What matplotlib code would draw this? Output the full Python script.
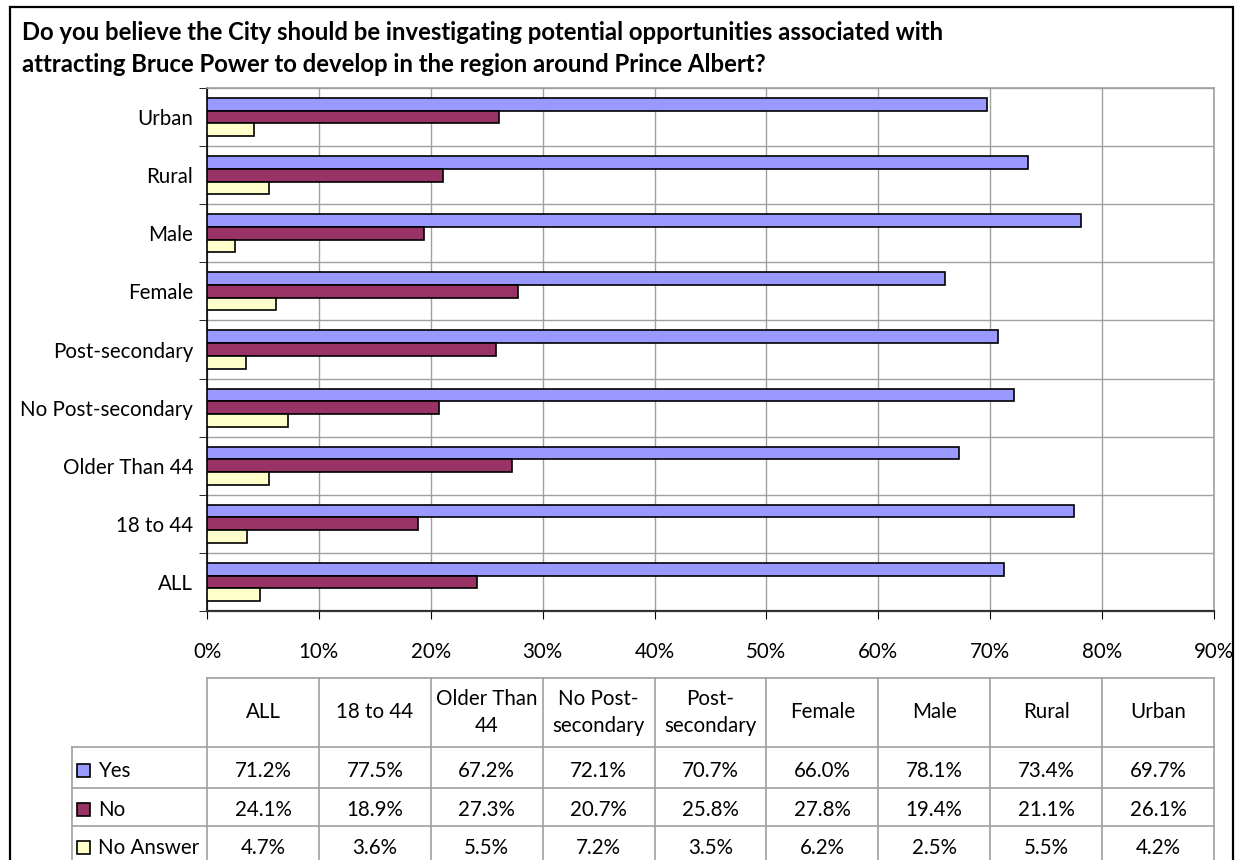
import matplotlib
matplotlib.use("Agg")
import matplotlib.pyplot as plt
import numpy as np
from matplotlib.patches import Rectangle
from matplotlib.lines import Line2D

plt.rcParams['font.family'] = ['Lato', 'DejaVu Sans']

categories = ["ALL", "18 to 44", "Older Than 44", "No Post-secondary", "Post-secondary",
              "Female", "Male", "Rural", "Urban"]
header_labels = ["ALL", "18 to 44", "Older Than\n44", "No Post-\nsecondary", "Post-\nsecondary",
                 "Female", "Male", "Rural", "Urban"]
series_names = ["Yes", "No", "No Answer"]
yes = [71.2, 77.5, 67.2, 72.1, 70.7, 66.0, 78.1, 73.4, 69.7]
no = [24.1, 18.9, 27.3, 20.7, 25.8, 27.8, 19.4, 21.1, 26.1]
no_answer = [4.7, 3.6, 5.5, 7.2, 3.5, 6.2, 2.5, 5.5, 4.2]
colors = ["#9999FF", "#993366", "#FFFFCC"]
title = ("Do you believe the City should be investigating potential opportunities associated with\n"
         "attracting Bruce Power to develop in the region around Prince Albert?")

W, H = 1238, 860
FS = 14.8
fig = plt.figure(figsize=(W / 100, H / 100), dpi=100)

def fx(px):
    return px / W

def fy(py):
    return 1 - py / H

# outer frame
fig.patches.append(Rectangle((fx(10), fy(870)), fx(1233) - fx(10), fy(7) - fy(870),
                             transform=fig.transFigure, fill=False, edgecolor="black",
                             linewidth=1.6, zorder=0))

fig.text(fx(22), fy(32), title.split("\n")[0], fontsize=17.2, fontweight="bold",
         va="center", ha="left")
fig.text(fx(22), fy(64), title.split("\n")[1], fontsize=17.2, fontweight="bold",
         va="center", ha="left")

# main plot
L, R, T, B = 207, 1214, 88, 611
ax = fig.add_axes([fx(L), fy(B), fx(R) - fx(L), fy(T) - fy(B)])
y = np.arange(len(categories))
h = 0.218
series = [yes, no, no_answer]
offsets = [h, 0, -h]
for vals, c, off in zip(series, colors, offsets):
    ax.barh(y + off, vals, height=h, color=c, edgecolor="black", linewidth=1.2, zorder=3)

ax.set_xlim(0, 90)
ax.set_ylim(-0.5, len(categories) - 0.5)
ax.set_xticks(np.arange(0, 91, 10))
ax.set_xticklabels([f"{v}%" for v in range(0, 91, 10)], fontsize=FS)
ax.set_yticks(y)
ax.set_yticklabels(categories, fontsize=FS)
ax.set_yticks(np.arange(-0.5, len(categories), 1), minor=True)
ax.tick_params(axis="y", which="major", length=0, pad=10)
ax.tick_params(axis="y", which="minor", length=6, direction="out", color="black")
ax.tick_params(axis="x", which="major", length=6, direction="out", pad=16, color="black")
ax.grid(axis="x", which="major", color="#A0A0A0", linewidth=1, zorder=0)
ax.grid(axis="y", which="minor", color="#A0A0A0", linewidth=1, zorder=0)
ax.set_axisbelow(True)
for s in ["top", "right"]:
    ax.spines[s].set_color("#A0A0A0")
    ax.spines[s].set_linewidth(1.2)
ax.spines["left"].set_color("black")
ax.spines["bottom"].set_color("#333333")
ax.spines["left"].set_linewidth(1.2)
ax.spines["bottom"].set_linewidth(1.6)

# data table
tax = fig.add_axes([fx(L), 0, fx(R) - fx(L), fy(678)])
tax.set_xlim(0, 9)
tax.set_ylim(H, 678)
tax.axis("off")
gc = "#A0A0A0"
lab_left = -(L - 72) / ((R - L) / 9)
hdr_top, hdr_bot = 678, 747
row_lines = [747, 788, 826, 866]
# header
tax.add_line(Line2D([0, 9], [hdr_top, hdr_top], color=gc, lw=1.2, clip_on=False))
for i in range(10):
    tax.add_line(Line2D([i, i], [hdr_top, H], color=gc, lw=1.2, clip_on=False))
tax.add_line(Line2D([lab_left, lab_left], [hdr_bot, H], color=gc, lw=1.2, clip_on=False))
for yl in row_lines[:-1]:
    tax.add_line(Line2D([lab_left, 9], [yl, yl], color=gc, lw=1.2, clip_on=False))
for i, lab in enumerate(header_labels):
    tax.text(i + 0.5, (hdr_top + hdr_bot) / 2, lab, ha="center", va="center",
             fontsize=FS, linespacing=1.45, clip_on=False)
text_y = [771, 810, 848]
for r, (vals, c, name) in enumerate(zip(series, colors, series_names)):
    for i, v in enumerate(vals):
        tax.text(i + 0.5, text_y[r], f"{v:.1f}%", ha="center", va="center",
                 fontsize=FS, clip_on=False)
    fig.patches.append(Rectangle((fx(77), fy(text_y[r] + 6)), fx(13), fy(0) - fy(13),
                                 transform=fig.transFigure, facecolor=c,
                                 edgecolor="black", linewidth=1.2))
    fig.text(fx(98), fy(text_y[r]), name, ha="left", va="center", fontsize=FS)

fig.savefig("out.png", dpi=100)
